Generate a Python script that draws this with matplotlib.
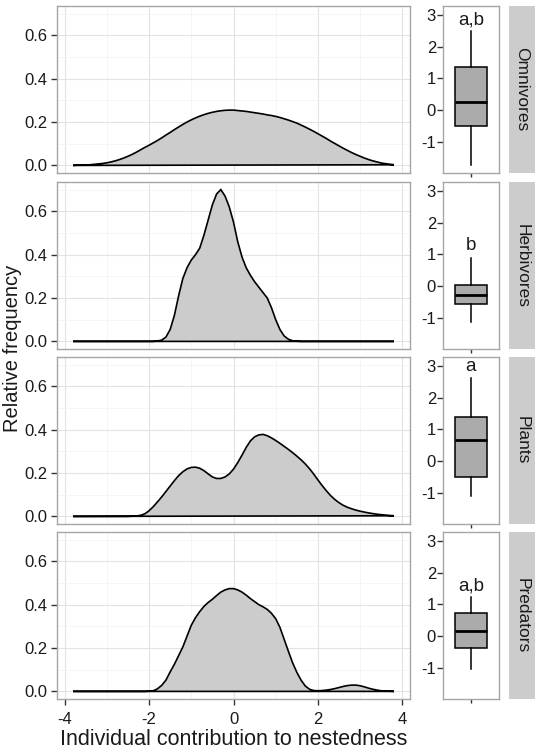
import numpy as np
import matplotlib
matplotlib.use("Agg")
import matplotlib.pyplot as plt
from matplotlib.ticker import FixedLocator

plt.rcParams['font.family'] = ['Liberation Sans', 'DejaVu Sans']

groups = ["Omnivores", "Herbivores", "Plants", "Predators"]
letters = ["a,b", "b", "a", "a,b"]

# density estimates, on a 0.1 grid from -3.8 to 3.8
dens_x = np.round(np.arange(-38, 39) / 10, 1)

dens_omni = [0.000, 0.001, 0.001, 0.002, 0.003, 0.005, 0.007, 0.009, 0.012, 0.016,
             0.021, 0.027, 0.034, 0.042, 0.051, 0.061, 0.072, 0.083, 0.093, 0.104,
             0.115, 0.127, 0.140, 0.152, 0.165, 0.177, 0.189, 0.200, 0.210, 0.219,
             0.227, 0.234, 0.240, 0.245, 0.249, 0.252, 0.254, 0.255, 0.255, 0.253,
             0.251, 0.249, 0.246, 0.243, 0.240, 0.237, 0.233, 0.230, 0.226, 0.221,
             0.215, 0.209, 0.202, 0.195, 0.186, 0.177, 0.167, 0.157, 0.146, 0.135,
             0.124, 0.112, 0.101, 0.090, 0.079, 0.069, 0.059, 0.050, 0.042, 0.034,
             0.027, 0.021, 0.016, 0.011, 0.008, 0.005, 0.003]

dens_herb = [0.0] * 19 + [
             0.000, 0.002, 0.006, 0.020, 0.055, 0.120, 0.210, 0.290, 0.340, 0.375,
             0.400, 0.430, 0.490, 0.560, 0.630, 0.680, 0.700, 0.670, 0.620, 0.550,
             0.460, 0.390, 0.340, 0.305, 0.275, 0.250, 0.225, 0.200, 0.155, 0.100,
             0.055, 0.025, 0.010, 0.003, 0.001] + [0.0] * 23

dens_plant = [0.0] * 14 + [
              0.001, 0.002, 0.005, 0.012, 0.026, 0.045, 0.067, 0.090, 0.115, 0.140,
              0.165, 0.188, 0.206, 0.219, 0.226, 0.227, 0.222, 0.211, 0.196, 0.182,
              0.175, 0.175, 0.182, 0.196, 0.218, 0.248, 0.282, 0.318, 0.348, 0.367,
              0.376, 0.378, 0.372, 0.362, 0.350, 0.337, 0.323, 0.309, 0.294, 0.278,
              0.261, 0.242, 0.220, 0.195, 0.168, 0.142, 0.118, 0.096, 0.078, 0.063,
              0.051, 0.042, 0.035, 0.029, 0.024, 0.020, 0.016, 0.013, 0.010, 0.008,
              0.006, 0.004, 0.003]

dens_pred = [0.0] * 18 + [
             0.001, 0.003, 0.012, 0.028, 0.052, 0.090, 0.125, 0.165, 0.205, 0.255,
             0.305, 0.340, 0.368, 0.392, 0.410, 0.425, 0.442, 0.458, 0.468, 0.474,
             0.474, 0.468, 0.458, 0.444, 0.428, 0.414, 0.400, 0.390, 0.378, 0.360,
             0.335, 0.295, 0.240, 0.185, 0.132, 0.088, 0.052, 0.025, 0.010, 0.004,
             0.003, 0.004, 0.006, 0.009, 0.013, 0.018, 0.023, 0.027, 0.029, 0.029,
             0.026, 0.021, 0.015, 0.010, 0.006, 0.003, 0.002, 0.001, 0.000]

densities = [dens_omni, dens_herb, dens_plant, dens_pred]

# box plot summaries
box_q1 = [-0.50, -0.54, -0.50, -0.37]
box_med = [0.25, -0.26, 0.68, 0.18]
box_q3 = [1.35, 0.04, 1.40, 0.74]
box_lo = [-1.71, -1.13, -1.08, -1.03]
box_hi = [2.48, 0.90, 2.62, 1.22]

x_ticks = [-4, -2, 0, 2, 4]
y_ticks = [0.0, 0.2, 0.4, 0.6]
box_ticks = [-1, 0, 1, 2, 3]

W, H = 542, 755
fig = plt.figure(figsize=(W / 100, H / 100), dpi=100)


def px_axes(x0, y0, x1, y1):
    # pixel box (top-left origin) -> figure axes
    return fig.add_axes([x0 / W, 1 - y1 / H, (x1 - x0) / W, (y1 - y0) / H])


BORDER = '#a6a6a6'
TXT = '#1a1a1a'
TICK_FS = 12
row_tops = [6, 182, 357, 532]
row_h = 167

for i, g in enumerate(groups):
    top = row_tops[i]
    bot = top + row_h
    last = i == len(groups) - 1

    # density panel
    ax = px_axes(57, top, 410, bot)
    ax.fill(dens_x, densities[i], facecolor='#cccccc', edgecolor='black', linewidth=1.2, zorder=3)
    ax.set_xlim(-4.18, 4.18)
    ax.set_ylim(-0.035, 0.735)
    ax.set_yticks(y_ticks)
    ax.set_yticklabels([f"{v:.1f}" for v in y_ticks])
    ax.set_xticks(x_ticks)
    ax.xaxis.set_minor_locator(FixedLocator([-3, -1, 1, 3]))
    ax.yaxis.set_minor_locator(FixedLocator([0.1, 0.3, 0.5, 0.7]))
    ax.grid(True, which='major', color='#e3e3e3', linewidth=0.8, zorder=0)
    ax.grid(True, which='minor', color='#f1f1f1', linewidth=0.5, zorder=0)
    ax.set_axisbelow(True)
    ax.tick_params(which='minor', length=0)
    ax.tick_params(axis='y', length=4, width=1, color='#333333', labelsize=TICK_FS,
                   labelcolor=TXT, pad=3)
    if last:
        ax.set_xticklabels([str(v) for v in x_ticks])
        ax.tick_params(axis='x', length=4, width=1, color='#333333', labelsize=TICK_FS,
                       labelcolor=TXT, pad=5.5)
        ax.set_xlabel("Individual contribution to nestedness", fontsize=15.5, color=TXT,
                      labelpad=1.5)
    else:
        ax.tick_params(axis='x', length=0, labelbottom=False)
    for s in ax.spines.values():
        s.set_color(BORDER)
        s.set_linewidth(1.0)

    # box plot panel
    bx = px_axes(443, top, 499, bot)
    stats = [{'med': box_med[i], 'q1': box_q1[i], 'q3': box_q3[i],
              'whislo': box_lo[i], 'whishi': box_hi[i], 'fliers': []}]
    bx.bxp(stats, positions=[1], widths=0.68, patch_artist=True, showcaps=False,
           boxprops=dict(facecolor='#ababab', edgecolor='black', linewidth=1.1),
           medianprops=dict(color='black', linewidth=2.0),
           whiskerprops=dict(color='black', linewidth=1.1))
    bx.text(1, box_hi[i] + 0.1, letters[i], ha='center', va='bottom', fontsize=13.5, color=TXT)
    bx.set_xlim(0.4, 1.6)
    bx.set_ylim(-1.96, 3.27)
    bx.set_yticks(box_ticks)
    bx.set_yticklabels([str(v) for v in box_ticks])
    bx.set_xticks([1])
    bx.set_xticklabels([''])
    bx.tick_params(axis='y', length=4, width=1, color='#333333', labelsize=TICK_FS,
                   labelcolor=TXT, pad=1)
    bx.tick_params(axis='x', length=3, width=1, color='#333333')
    for s in bx.spines.values():
        s.set_color(BORDER)
        s.set_linewidth(1.0)

    # facet strip
    st = px_axes(509, top, 535, bot)
    st.set_facecolor('#cccccc')
    st.set_xticks([])
    st.set_yticks([])
    for s in st.spines.values():
        s.set_visible(False)
    st.text(0.5, 0.5, g, rotation=-90, ha='center', va='center', fontsize=12.5,
            color=TXT, transform=st.transAxes)

fig.text(13 / W, 1 - 348 / H, "Relative frequency", rotation=90, ha='center', va='center',
         fontsize=14.5, color=TXT)

fig.savefig("out.png", dpi=100)
